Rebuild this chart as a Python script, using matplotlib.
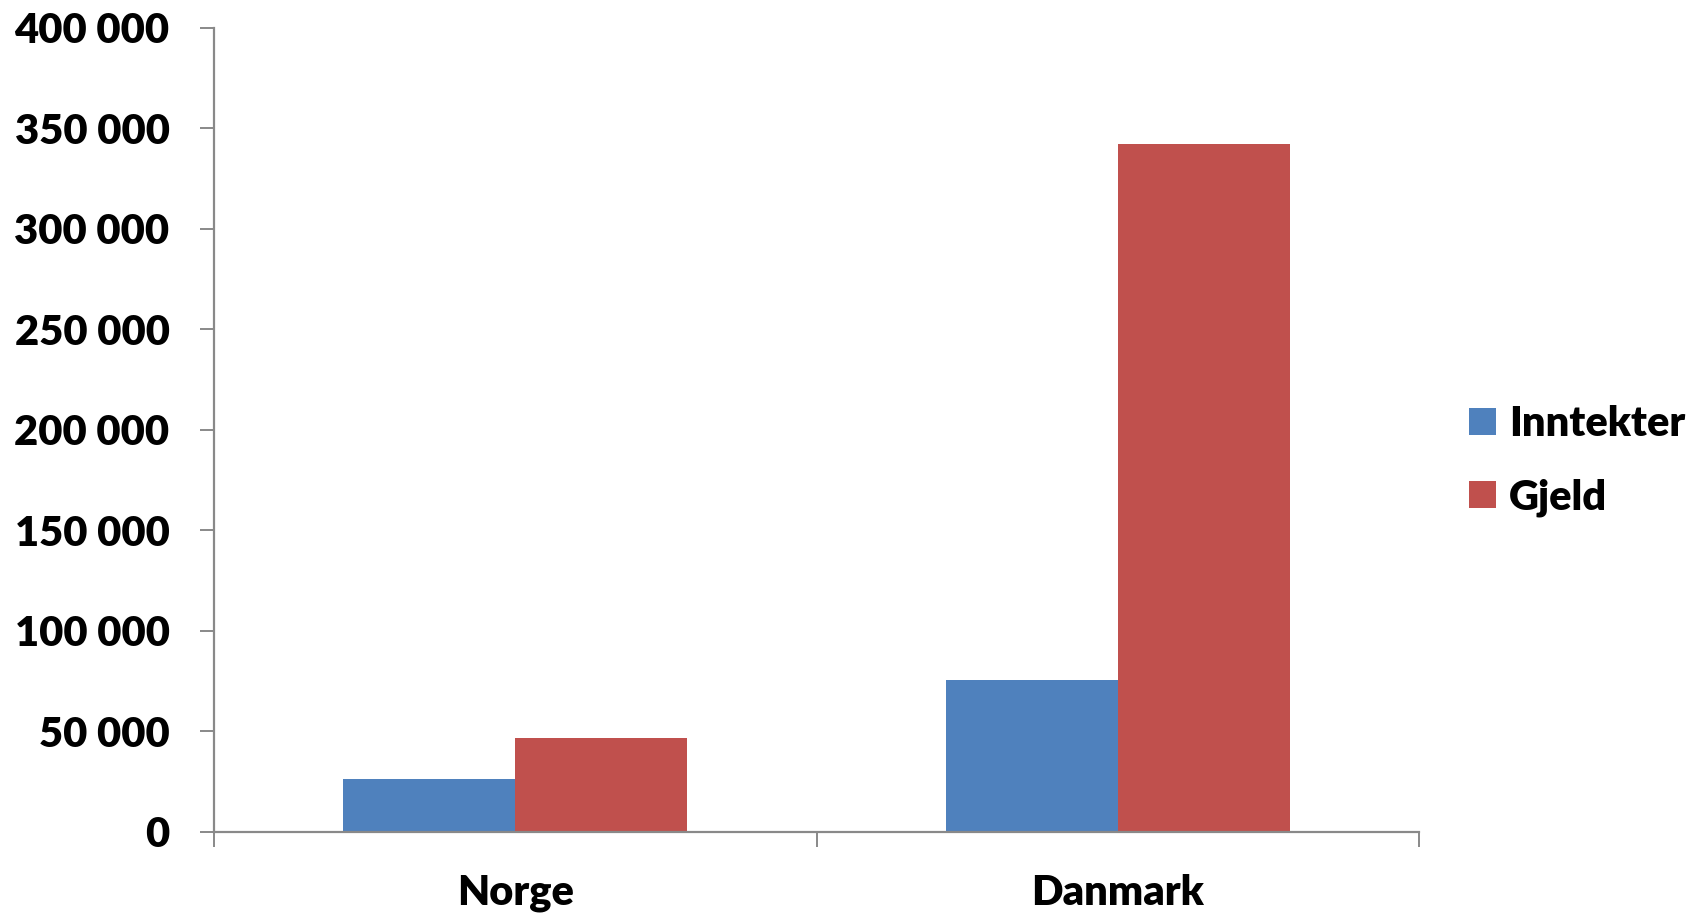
import matplotlib
matplotlib.use("Agg")
import matplotlib.pyplot as plt
import numpy as np
from matplotlib.ticker import FuncFormatter, FixedLocator

plt.rcParams["font.family"] = ["Lato", "DejaVu Sans"]
plt.rcParams["font.weight"] = "heavy"

categories = ["Norge", "Danmark"]
series = ["Inntekter", "Gjeld"]
inntekter = [26200, 75500]
gjeld = [46800, 342500]
yticks = [0, 50000, 100000, 150000, 200000, 250000, 300000, 350000, 400000]

colors = {"Inntekter": "#4F81BD", "Gjeld": "#C0504D"}
gray = "#898989"
fs = 30

fig = plt.figure(figsize=(17.07, 9.18), dpi=100)
ax = fig.add_axes([0.1254, 0.0937, 0.8313 - 0.1254, 0.9695 - 0.0937])

x = np.arange(len(categories))
w = 1 / 3.5
ax.bar(x - w / 2, inntekter, width=w, color=colors["Inntekter"], label=series[0])
ax.bar(x + w / 2, gjeld, width=w, color=colors["Gjeld"], label=series[1])

ax.set_xlim(-0.5, len(categories) - 0.5)
ax.set_ylim(0, 400000)

ax.spines["top"].set_visible(False)
ax.spines["right"].set_visible(False)
for s in ["left", "bottom"]:
    ax.spines[s].set_color(gray)
    ax.spines[s].set_linewidth(1.6)

ax.set_yticks(yticks)
ax.yaxis.set_major_formatter(FuncFormatter(lambda v, p: f"{int(v):,}".replace(",", " ")))
ax.tick_params(axis="y", length=10, width=1.4, color=gray, labelsize=fs, pad=22)

# category boundaries get the ticks, names sit in between
ax.xaxis.set_major_locator(FixedLocator([-0.5, 0.5, 1.5]))
ax.xaxis.set_major_formatter(FuncFormatter(lambda v, p: ""))
ax.xaxis.set_minor_locator(FixedLocator(x))
ax.set_xticklabels(categories, minor=True)
ax.tick_params(axis="x", which="major", length=11, width=1.4, color=gray)
ax.tick_params(axis="x", which="minor", length=0, labelsize=fs, pad=30)

for lab in ax.get_xticklabels(minor=True) + ax.get_yticklabels():
    lab.set_fontweight("heavy")

leg = fig.legend(loc="center left", bbox_to_anchor=(0.851, 0.498), frameon=False,
                 fontsize=fs, handlelength=0.65, handleheight=0.65, handletextpad=0.31,
                 labelspacing=0.84, borderaxespad=0)
for t in leg.get_texts():
    t.set_fontweight("heavy")

fig.savefig("out.png", dpi=100)
